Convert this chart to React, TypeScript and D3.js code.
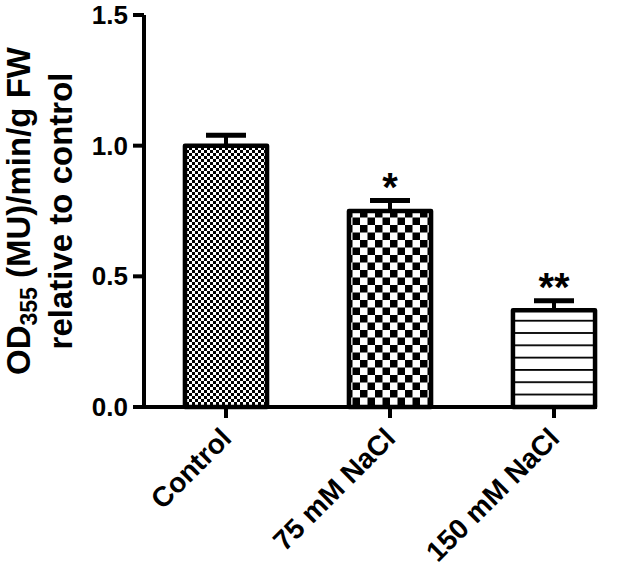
import React from 'react';
import * as d3 from 'd3';

const categories = ['Control', '75 mM NaCl', '150 mM NaCl'];
const means = [1.0, 0.75, 0.37];
const errors = [0.04, 0.04, 0.037];
const stars = ['', '*', '**'];
const patterns = ['fineCheck', 'bigCheck', 'hLines'];
const yTicks = [0, 0.5, 1.0, 1.5];

const W = 641;
const H = 570;
const FONT = '"Liberation Sans", Arial, Helvetica, sans-serif';

const App = () => {
  const x = d3
    .scaleBand<string>()
    .domain(categories)
    .range([144, 144 + 3 * 164])
    .paddingInner(0.475)
    .paddingOuter(0.2375);
  const y = d3.scaleLinear().domain([0, 1.5]).range([407, 15]);
  const bw = x.bandwidth();
  const axisEnd = (x(categories[categories.length - 1]) as number) + bw;

  return (
    <svg width={W} height={H} style={{ position: 'absolute', left: 0, top: 0, background: '#fff' }}>
      <defs>
        <pattern id="fineCheck" patternUnits="userSpaceOnUse" width={6} height={6}>
          <rect width={6} height={6} fill="#fff" />
          <rect width={3} height={3} fill="#000" />
          <rect x={3} y={3} width={3} height={3} fill="#000" />
        </pattern>
        <pattern id="bigCheck" patternUnits="userSpaceOnUse" width={15} height={15}>
          <rect width={15} height={15} fill="#fff" />
          <rect width={7.5} height={7.5} fill="#000" />
          <rect x={7.5} y={7.5} width={7.5} height={7.5} fill="#000" />
        </pattern>
        <pattern id="hLines" patternUnits="userSpaceOnUse" width={12} height={12.3}>
          <rect width={12} height={12.3} fill="#fff" />
          <rect y={0} width={12} height={1.8} fill="#000" />
        </pattern>
      </defs>

      {/* bars */}
      {categories.map((c, i) => {
        const x0 = x(c) as number;
        const cx = x0 + bw / 2;
        const top = y(means[i] + errors[i]);
        return (
          <g key={c}>
            <line x1={cx} x2={cx} y1={y(means[i])} y2={top} stroke="#000" strokeWidth={4} />
            <line x1={cx - 20} x2={cx + 20} y1={top} y2={top} stroke="#000" strokeWidth={5} />
            <rect
              x={x0 + 2}
              y={y(means[i])}
              width={bw - 4}
              height={y(0) - y(means[i])}
              fill={`url(#${patterns[i]})`}
              stroke="#000"
              strokeWidth={4.5}
              strokeLinejoin="round"
            />
            {stars[i] && (
              <text x={cx} y={top} textAnchor="middle" fontFamily={FONT} fontWeight="bold" fontSize={40}>
                {stars[i]}
              </text>
            )}
          </g>
        );
      })}

      {/* y axis */}
      <line x1={144} x2={144} y1={y(1.5)} y2={y(0) + 2} stroke="#000" strokeWidth={4} />
      {yTicks.map((t) => (
        <g key={t}>
          <line x1={133} x2={144} y1={y(t)} y2={y(t)} stroke="#000" strokeWidth={4} />
          <text x={128} y={y(t)} dy="0.35em" textAnchor="end" fontFamily={FONT} fontWeight="bold" fontSize={26}>
            {d3.format('.1f')(t)}
          </text>
        </g>
      ))}

      {/* x axis */}
      <line x1={142} x2={axisEnd} y1={y(0)} y2={y(0)} stroke="#000" strokeWidth={4} />
      {categories.map((c) => {
        const cx = (x(c) as number) + bw / 2;
        return (
          <g key={c}>
            <line x1={cx} x2={cx} y1={y(0)} y2={y(0) + 11} stroke="#000" strokeWidth={4} />
            <text
              transform={`translate(${cx + 7},${y(0) + 33}) rotate(-45)`}
              textAnchor="end"
              fontFamily={FONT}
              fontWeight="bold"
              fontSize={28}
            >
              {c}
            </text>
          </g>
        );
      })}

      {/* y label */}
      <text
        transform={`translate(30,${(y(0) + y(1.5)) / 2}) rotate(-90)`}
        textAnchor="middle"
        fontFamily={FONT}
        fontWeight="bold"
        fontSize={33}
      >
        OD<tspan fontSize={23} dy={7}>355</tspan>
        <tspan dy={-7}> (MU)/min/g FW</tspan>
      </text>
      <text
        transform={`translate(72,${(y(0) + y(1.5)) / 2}) rotate(-90)`}
        textAnchor="middle"
        fontFamily={FONT}
        fontWeight="bold"
        fontSize={33}
      >
        relative to control
      </text>
    </svg>
  );
};

export default App;
